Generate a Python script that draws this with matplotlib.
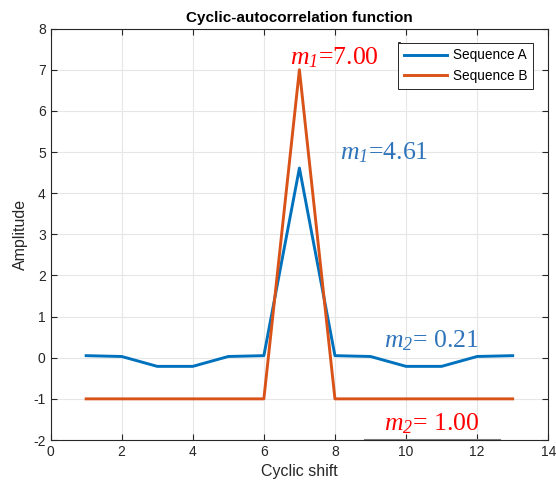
import matplotlib
matplotlib.use("Agg")
import matplotlib.pyplot as plt
from matplotlib.lines import Line2D

shift = [1, 2, 3, 4, 5, 6, 7, 8, 9, 10, 11, 12, 13]
seq_a = [0.05, 0.03, -0.21, -0.21, 0.03, 0.05, 4.61, 0.05, 0.03, -0.21, -0.21, 0.03, 0.05]
seq_b = [-1, -1, -1, -1, -1, -1, 7, -1, -1, -1, -1, -1, -1]
xticks = [0, 2, 4, 6, 8, 10, 12, 14]
yticks = [-2, -1, 0, 1, 2, 3, 4, 5, 6, 7, 8]

plt.rcParams['font.family'] = ['Liberation Sans', 'DejaVu Sans']
plt.rcParams['axes.unicode_minus'] = False
plt.rcParams['mathtext.fontset'] = 'custom'
plt.rcParams['mathtext.rm'] = 'Liberation Serif:italic'
plt.rcParams['mathtext.it'] = 'Liberation Serif:italic'
plt.rcParams['mathtext.default'] = 'it'

fig = plt.figure(figsize=(5.56, 4.93), dpi=100)
ax = fig.add_axes([0.091, 0.1075, 0.895, 0.8345])

ax.plot(shift, seq_a, color='#0072BD', lw=2.1, label='Sequence A')
ax.plot(shift, seq_b, color='#D95319', lw=2.1, label='Sequence B')

ax.set_xlim(0, 14)
ax.set_ylim(-2, 8)
ax.set_xticks(xticks)
ax.set_yticks(yticks)
ax.grid(True, color='#e6e6e6', lw=0.8)
ax.set_axisbelow(True)
ax.tick_params(direction='in', top=True, right=True, labelsize=10, colors='#262626', length=4)
for s in ax.spines.values():
    s.set_color('#262626')
    s.set_linewidth(0.8)

ax.set_xlabel('Cyclic shift', fontsize=11.5, color='#262626')
ax.set_ylabel('Amplitude', fontsize=11.5, color='#262626')
ax.set_title('Cyclic-autocorrelation function', fontsize=11, fontweight='bold', pad=5)

red = '#FF0000'
blue = '#2F74BA'
fs = 18.5
ax.text(6.73, 7.14, r'$m_1$=7.00', color=red, fontsize=fs, family='Liberation Serif', va='baseline')
ax.text(8.13, 4.81, r'$m_1$=4.61', color=blue, fontsize=fs, family='Liberation Serif', va='baseline')
ax.text(9.37, 0.26, r'$m_2$= 0.21', color=blue, fontsize=fs, family='Liberation Serif', va='baseline')
ax.text(9.37, -1.76, r'$m_2$= 1.00', color=red, fontsize=fs, family='Liberation Serif', va='baseline')

leg = ax.legend(loc='upper right', bbox_to_anchor=(0.970, 0.965), borderaxespad=0,
                fontsize=9.8, fancybox=False, framealpha=1, edgecolor='#262626',
                handlelength=3.15, handletextpad=0.5, borderpad=0.4, labelspacing=0.5)
leg.get_frame().set_linewidth(0.7)

# stray box edges visible in the reference
ax.add_line(Line2D([0.700, 0.700], [0.912, 0.965], transform=ax.transAxes, color='#262626', lw=2.0, clip_on=False))
ax.add_line(Line2D([0.632, 0.903], [0.0, 0.0], transform=ax.transAxes, color='#808080', lw=1.5, clip_on=False))

fig.savefig('out.png', dpi=100)
